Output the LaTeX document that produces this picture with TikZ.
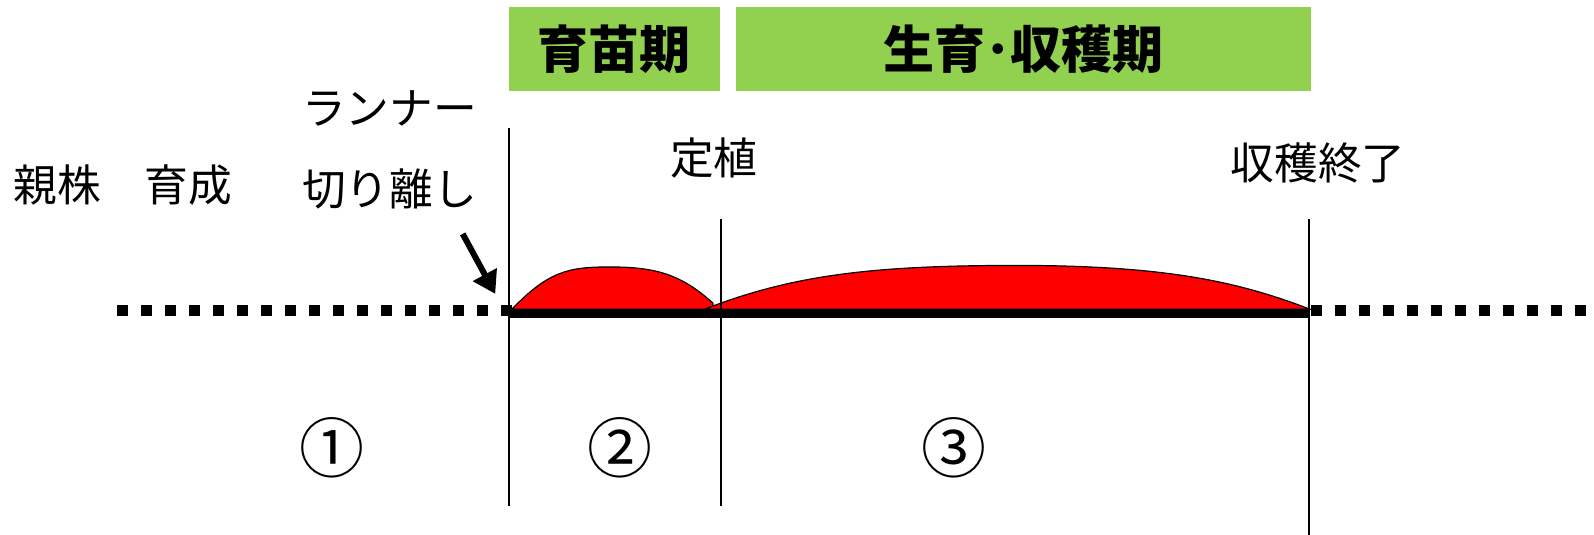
\documentclass[tikz,border=0pt]{standalone}
\usepackage{fontspec}
\setmainfont{Noto Sans CJK JP}
\usetikzlibrary{arrows.meta}
\definecolor{leaf}{RGB}{146,208,80}
\definecolor{crop}{RGB}{255,0,0}
\tikzset{
  lbl/.style={font=\fontsize{43.7}{50}\selectfont, inner sep=0pt, anchor=center},
  phase/.style={fill=leaf, draw=none, font=\bfseries\fontsize{51}{56}\selectfont, inner sep=0pt},
  num/.style={font=\fontsize{65}{70}\selectfont, inner sep=0pt},
  vline/.style={line width=1.6pt, black},
  dots/.style={line width=11.5pt, dash pattern=on 11.5pt off 12.5pt},
  base/.style={line width=9pt},
  hill/.style={fill=crop, draw=black, line width=1.2pt},
}
\begin{document}
\begin{tikzpicture}[x=1.017pt,y=-1.017pt]
\useasboundingbox (0,0) rectangle (1567.4,526.07);
% phase boxes
\node[phase, minimum width=211.5pt, minimum height=84pt] (b1) at (604,48.2) {育苗期};
\node[phase, minimum width=574.6pt, minimum height=84pt] (b2) at (1006.5,48.2) {生育･収穫期};
% labels
\node[lbl] (oya) at (121,182) {親株　育成};
\node[lbl] (run) at (383,107) {ランナー};
\node[lbl] (kiri) at (383,186) {切り離し};
\node[lbl] (tei) at (702,155) {定植};
\node[lbl] (shu) at (1296,160) {収穫終了};
\node[num] (n1) at (326,440) {①};
\node[num] (n2) at (610,440) {②};
\node[num] (n3) at (938,440) {③};
% coordinates
\coordinate (v1t) at (500.5,126); \coordinate (v1b) at (500.5,497.5);
\coordinate (v2t) at (709,215.3); \coordinate (v2b) at (709,497.5);
\coordinate (v3t) at (1287.1,215.3); \coordinate (v3b) at (1287.1,526.07);
\coordinate (dl) at (115,305.3); \coordinate (d1) at (504.4,305.3);
\coordinate (d2) at (1289,305.3); \coordinate (dr) at (1561,305.3);
\coordinate (as) at (455,230); \coordinate (ae) at (487,289);
% dotted lines
\draw[dots] (dl) -- (d1);
\draw[dots] (d2) -- (dr);
% hills
\draw[hill] (503.4,304) .. controls (540,266) and (560,262.5) .. (600,262.5)
  .. controls (645,262.5) and (670,270) .. (701,298) -- (701,304) -- cycle;
\draw[hill] (693,304) .. controls (780,270) and (860,261) .. (1000,261)
  .. controls (1150,261) and (1220,278) .. (1288,304) -- cycle;
% base line
\draw[base] (v1t |- 0,308.3) -- (v3t |- 0,308.3);
% vertical lines
\draw[vline] (v1t) -- (v1b);
\draw[vline] (v2t) -- (v2b);
\draw[vline] (v3t) -- (v3b);
% arrow
\draw[line width=6pt, -{Triangle[length=22pt,width=26pt]}] (as) -- (ae);
\end{tikzpicture}
\end{document}
